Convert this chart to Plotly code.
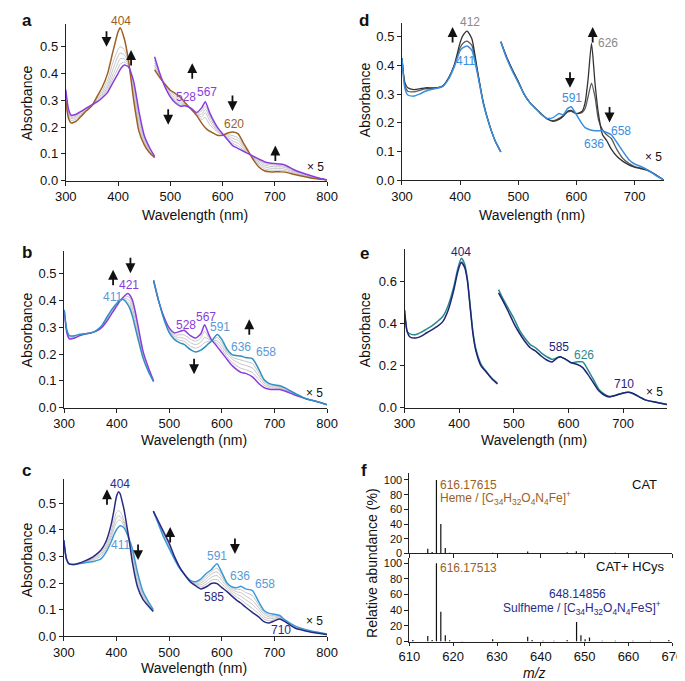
import plotly.graph_objects as go

W, H = 685, 681
FONT = "Liberation Sans, Arial, Helvetica, sans-serif"

# ---------------- DATA ----------------
# Panel a
a_sor_nm = [300, 305, 310, 320, 330, 340, 350, 360, 370, 380, 390, 400, 404, 412, 420, 430, 440, 450, 460, 470]
a_sor_brown = [0.30, 0.235, 0.216, 0.222, 0.242, 0.262, 0.28, 0.315, 0.35, 0.40, 0.48, 0.555, 0.571, 0.53, 0.45, 0.30, 0.185, 0.135, 0.105, 0.086]
a_sor_purple = [0.34, 0.27, 0.245, 0.248, 0.26, 0.272, 0.283, 0.294, 0.31, 0.33, 0.365, 0.40, 0.415, 0.432, 0.425, 0.37, 0.26, 0.17, 0.125, 0.091]
a_sor_g1 = [0.31, 0.245, 0.225, 0.23, 0.247, 0.265, 0.281, 0.308, 0.336, 0.375, 0.44, 0.49, 0.50, 0.49, 0.44, 0.32, 0.205, 0.145, 0.11, 0.087]
a_sor_g2 = [0.32, 0.252, 0.232, 0.236, 0.251, 0.268, 0.282, 0.303, 0.327, 0.36, 0.415, 0.465, 0.477, 0.47, 0.437, 0.335, 0.22, 0.152, 0.115, 0.088]
a_sor_g3 = [0.33, 0.258, 0.237, 0.241, 0.255, 0.27, 0.282, 0.30, 0.32, 0.35, 0.395, 0.44, 0.455, 0.455, 0.433, 0.348, 0.235, 0.16, 0.118, 0.089]
a_sor_g4 = [0.335, 0.264, 0.241, 0.245, 0.258, 0.271, 0.283, 0.297, 0.315, 0.34, 0.38, 0.42, 0.435, 0.443, 0.43, 0.36, 0.248, 0.165, 0.122, 0.09]

a_vis_nm = [470, 480, 490, 500, 510, 520, 528, 540, 550, 560, 567, 575, 580, 590, 600, 610, 620, 630, 640, 650, 660, 670, 680, 690, 700, 710, 720, 740, 760, 780, 800]
a_vis_brown = [0.414, 0.385, 0.36, 0.338, 0.325, 0.31, 0.292, 0.267, 0.245, 0.215, 0.198, 0.185, 0.18, 0.17, 0.17, 0.178, 0.182, 0.175, 0.14, 0.108, 0.075, 0.05, 0.037, 0.033, 0.033, 0.033, 0.032, 0.022, 0.014, 0.007, 0.002]
a_vis_purple = [0.463, 0.40, 0.35, 0.313, 0.29, 0.278, 0.28, 0.27, 0.255, 0.272, 0.295, 0.255, 0.235, 0.20, 0.175, 0.152, 0.13, 0.12, 0.11, 0.10, 0.09, 0.08, 0.071, 0.066, 0.064, 0.062, 0.058, 0.038, 0.024, 0.012, 0.003]
a_vis_g1 = [0.42, 0.388, 0.358, 0.333, 0.316, 0.30, 0.287, 0.267, 0.248, 0.228, 0.236, 0.21, 0.20, 0.182, 0.172, 0.172, 0.168, 0.16, 0.132, 0.106, 0.08, 0.058, 0.045, 0.04, 0.039, 0.039, 0.037, 0.026, 0.016, 0.008, 0.002]
a_vis_g2 = [0.43, 0.39, 0.355, 0.327, 0.308, 0.293, 0.285, 0.268, 0.25, 0.238, 0.254, 0.225, 0.21, 0.186, 0.172, 0.167, 0.158, 0.15, 0.126, 0.105, 0.083, 0.064, 0.052, 0.047, 0.046, 0.046, 0.043, 0.03, 0.018, 0.009, 0.002]
a_vis_g3 = [0.44, 0.393, 0.352, 0.322, 0.30, 0.287, 0.283, 0.269, 0.252, 0.248, 0.267, 0.238, 0.22, 0.19, 0.173, 0.162, 0.148, 0.139, 0.12, 0.103, 0.085, 0.07, 0.058, 0.054, 0.052, 0.052, 0.049, 0.033, 0.02, 0.01, 0.002]
a_vis_g4 = [0.45, 0.396, 0.35, 0.317, 0.295, 0.282, 0.281, 0.27, 0.254, 0.26, 0.279, 0.247, 0.228, 0.195, 0.174, 0.157, 0.139, 0.129, 0.115, 0.101, 0.087, 0.075, 0.064, 0.06, 0.058, 0.057, 0.053, 0.035, 0.022, 0.011, 0.003]

# Panel b
b_sor_nm = [300, 305, 310, 320, 330, 340, 350, 360, 370, 380, 390, 400, 405, 411, 415, 421, 425, 430, 435, 440, 450, 460, 470]
b_sor_purple = [0.365, 0.28, 0.257, 0.26, 0.269, 0.275, 0.279, 0.285, 0.297, 0.32, 0.35, 0.38, 0.395, 0.41, 0.418, 0.426, 0.42, 0.40, 0.36, 0.31, 0.21, 0.15, 0.10]
b_sor_blue = [0.365, 0.29, 0.269, 0.269, 0.274, 0.276, 0.279, 0.287, 0.303, 0.334, 0.365, 0.39, 0.40, 0.405, 0.40, 0.385, 0.37, 0.34, 0.30, 0.26, 0.185, 0.135, 0.097]
b_sor_g1 = [0.365, 0.283, 0.261, 0.263, 0.271, 0.275, 0.279, 0.286, 0.299, 0.325, 0.355, 0.384, 0.396, 0.408, 0.413, 0.415, 0.41, 0.385, 0.345, 0.295, 0.20, 0.145, 0.099]
b_sor_g2 = [0.365, 0.285, 0.264, 0.265, 0.272, 0.276, 0.279, 0.286, 0.30, 0.328, 0.359, 0.386, 0.397, 0.407, 0.408, 0.405, 0.398, 0.37, 0.33, 0.283, 0.195, 0.141, 0.098]
b_sor_g3 = [0.365, 0.287, 0.267, 0.267, 0.273, 0.276, 0.279, 0.287, 0.302, 0.331, 0.362, 0.388, 0.398, 0.406, 0.404, 0.395, 0.385, 0.355, 0.315, 0.272, 0.19, 0.138, 0.098]

b_vis_nm = [470, 480, 490, 500, 510, 520, 528, 540, 550, 560, 567, 575, 580, 591, 600, 610, 620, 636, 645, 658, 670, 680, 690, 700, 710, 720, 740, 760, 780, 800]
b_vis_blue = [0.475, 0.396, 0.328, 0.279, 0.254, 0.242, 0.236, 0.217, 0.208, 0.215, 0.225, 0.24, 0.248, 0.273, 0.254, 0.217, 0.197, 0.193, 0.187, 0.183, 0.144, 0.105, 0.09, 0.085, 0.082, 0.074, 0.052, 0.033, 0.023, 0.011]
b_vis_purple = [0.475, 0.396, 0.338, 0.297, 0.279, 0.285, 0.289, 0.269, 0.26, 0.276, 0.31, 0.273, 0.254, 0.228, 0.205, 0.18, 0.156, 0.132, 0.128, 0.115, 0.09, 0.075, 0.069, 0.068, 0.068, 0.062, 0.046, 0.033, 0.023, 0.011]
b_vis_g1 = [0.475, 0.396, 0.335, 0.292, 0.272, 0.272, 0.272, 0.256, 0.248, 0.26, 0.285, 0.262, 0.252, 0.24, 0.218, 0.19, 0.168, 0.147, 0.142, 0.131, 0.105, 0.084, 0.075, 0.073, 0.072, 0.066, 0.048, 0.033, 0.023, 0.011]
b_vis_g2 = [0.475, 0.396, 0.333, 0.288, 0.266, 0.262, 0.259, 0.243, 0.235, 0.245, 0.263, 0.255, 0.25, 0.25, 0.23, 0.20, 0.18, 0.163, 0.158, 0.148, 0.118, 0.092, 0.08, 0.077, 0.075, 0.069, 0.05, 0.033, 0.023, 0.011]
b_vis_g3 = [0.475, 0.396, 0.331, 0.284, 0.26, 0.252, 0.248, 0.23, 0.222, 0.23, 0.243, 0.248, 0.249, 0.262, 0.242, 0.208, 0.188, 0.178, 0.173, 0.165, 0.13, 0.098, 0.085, 0.081, 0.078, 0.071, 0.051, 0.033, 0.023, 0.011]

# Panel c
c_sor_nm = [300, 305, 310, 320, 330, 340, 350, 360, 370, 380, 390, 395, 400, 404, 407, 411, 415, 420, 425, 430, 440, 450, 460, 470]
c_sor_navy = [0.36, 0.29, 0.272, 0.27, 0.275, 0.283, 0.292, 0.305, 0.322, 0.355, 0.42, 0.47, 0.525, 0.543, 0.535, 0.505, 0.47, 0.41, 0.35, 0.28, 0.185, 0.14, 0.115, 0.093]
c_sor_lblue = [0.36, 0.29, 0.272, 0.27, 0.273, 0.276, 0.279, 0.283, 0.29, 0.315, 0.355, 0.38, 0.40, 0.41, 0.415, 0.413, 0.405, 0.385, 0.36, 0.33, 0.24, 0.17, 0.132, 0.10]
c_sor_g1 = [0.36, 0.29, 0.272, 0.27, 0.274, 0.281, 0.289, 0.299, 0.312, 0.34, 0.395, 0.435, 0.465, 0.472, 0.468, 0.452, 0.43, 0.39, 0.345, 0.295, 0.2, 0.15, 0.12, 0.095]
c_sor_g2 = [0.36, 0.29, 0.272, 0.27, 0.274, 0.279, 0.286, 0.295, 0.306, 0.332, 0.382, 0.418, 0.445, 0.452, 0.45, 0.438, 0.42, 0.388, 0.35, 0.31, 0.215, 0.155, 0.123, 0.097]
c_sor_g3 = [0.36, 0.29, 0.272, 0.27, 0.273, 0.278, 0.283, 0.29, 0.30, 0.325, 0.37, 0.402, 0.428, 0.436, 0.436, 0.428, 0.412, 0.386, 0.355, 0.318, 0.225, 0.162, 0.127, 0.098]

c_vis_nm = [470, 480, 490, 500, 510, 520, 530, 540, 550, 560, 570, 580, 585, 591, 600, 610, 620, 630, 636, 645, 658, 670, 680, 690, 700, 710, 720, 740, 760, 780, 800]
c_vis_lblue = [0.47, 0.42, 0.37, 0.33, 0.29, 0.255, 0.23, 0.21, 0.205, 0.215, 0.235, 0.25, 0.262, 0.272, 0.24, 0.20, 0.185, 0.183, 0.188, 0.178, 0.172, 0.13, 0.098, 0.086, 0.083, 0.078, 0.062, 0.038, 0.025, 0.016, 0.009]
c_vis_navy = [0.47, 0.43, 0.39, 0.35, 0.30, 0.26, 0.23, 0.205, 0.19, 0.178, 0.185, 0.198, 0.20, 0.198, 0.183, 0.168, 0.15, 0.133, 0.125, 0.11, 0.09, 0.073, 0.055, 0.05, 0.058, 0.065, 0.055, 0.03, 0.02, 0.012, 0.006]
c_vis_g1 = [0.47, 0.428, 0.385, 0.345, 0.298, 0.258, 0.23, 0.207, 0.194, 0.186, 0.195, 0.21, 0.213, 0.213, 0.197, 0.178, 0.16, 0.145, 0.138, 0.124, 0.105, 0.085, 0.065, 0.058, 0.063, 0.068, 0.057, 0.032, 0.021, 0.013, 0.007]
c_vis_g2 = [0.47, 0.426, 0.38, 0.34, 0.296, 0.257, 0.23, 0.208, 0.197, 0.193, 0.205, 0.222, 0.226, 0.228, 0.21, 0.186, 0.168, 0.156, 0.151, 0.138, 0.12, 0.097, 0.074, 0.066, 0.068, 0.071, 0.059, 0.034, 0.022, 0.014, 0.008]
c_vis_g3 = [0.47, 0.424, 0.377, 0.336, 0.294, 0.256, 0.23, 0.209, 0.20, 0.20, 0.215, 0.233, 0.239, 0.242, 0.222, 0.193, 0.175, 0.166, 0.164, 0.152, 0.135, 0.108, 0.083, 0.073, 0.073, 0.074, 0.06, 0.035, 0.023, 0.015, 0.008]
c_vis_g4 = [0.47, 0.422, 0.374, 0.333, 0.292, 0.256, 0.23, 0.21, 0.203, 0.207, 0.225, 0.242, 0.25, 0.256, 0.232, 0.198, 0.18, 0.175, 0.176, 0.165, 0.153, 0.118, 0.09, 0.079, 0.078, 0.076, 0.061, 0.036, 0.024, 0.015, 0.009]

# Panel d
d_sor_nm = [300, 305, 310, 320, 330, 340, 350, 360, 370, 380, 390, 400, 405, 412, 420, 430, 440, 450, 460, 470]
d_sor_dark = [0.425, 0.34, 0.322, 0.316, 0.318, 0.322, 0.322, 0.322, 0.328, 0.356, 0.402, 0.48, 0.505, 0.52, 0.494, 0.38, 0.27, 0.195, 0.138, 0.098]
d_sor_mid = [0.425, 0.33, 0.31, 0.308, 0.313, 0.318, 0.32, 0.322, 0.328, 0.355, 0.40, 0.462, 0.478, 0.485, 0.471, 0.375, 0.268, 0.195, 0.138, 0.098]
d_sor_blue = [0.425, 0.32, 0.297, 0.293, 0.30, 0.31, 0.316, 0.32, 0.327, 0.352, 0.396, 0.452, 0.462, 0.468, 0.454, 0.37, 0.266, 0.195, 0.138, 0.098]

d_vis_nm = [470, 480, 490, 500, 510, 520, 530, 540, 550, 560, 570, 577, 585, 591, 600, 610, 615, 620, 626, 632, 638, 645, 652, 660, 670, 680, 690, 700, 710, 720, 735, 750]
d_vis_blue = [0.483, 0.425, 0.38, 0.34, 0.30, 0.27, 0.25, 0.228, 0.215, 0.218, 0.232, 0.228, 0.25, 0.256, 0.228, 0.195, 0.183, 0.178, 0.174, 0.172, 0.172, 0.172, 0.166, 0.158, 0.13, 0.10, 0.072, 0.056, 0.048, 0.038, 0.018, 0.0]
d_vis_dark = [0.483, 0.43, 0.385, 0.345, 0.30, 0.27, 0.25, 0.23, 0.213, 0.205, 0.212, 0.222, 0.24, 0.243, 0.232, 0.24, 0.27, 0.35, 0.477, 0.338, 0.23, 0.158, 0.138, 0.108, 0.082, 0.065, 0.053, 0.045, 0.04, 0.035, 0.02, 0.0]
d_vis_mid = [0.483, 0.428, 0.383, 0.342, 0.30, 0.27, 0.25, 0.23, 0.213, 0.207, 0.215, 0.225, 0.238, 0.24, 0.232, 0.236, 0.25, 0.29, 0.338, 0.29, 0.21, 0.175, 0.158, 0.145, 0.105, 0.075, 0.058, 0.047, 0.042, 0.037, 0.02, 0.0]

# Panel e
e_sor_nm = [300, 305, 310, 320, 330, 340, 350, 360, 370, 380, 390, 398, 404, 410, 415, 420, 425, 430, 440, 450, 460, 470]
e_sor_navy = [0.463, 0.36, 0.335, 0.33, 0.338, 0.354, 0.369, 0.385, 0.408, 0.463, 0.556, 0.65, 0.689, 0.665, 0.603, 0.478, 0.354, 0.276, 0.198, 0.167, 0.136, 0.112]
e_sor_teal = [0.463, 0.36, 0.35, 0.346, 0.357, 0.372, 0.388, 0.408, 0.432, 0.486, 0.572, 0.665, 0.709, 0.681, 0.611, 0.486, 0.362, 0.284, 0.206, 0.17, 0.139, 0.117]

e_vis_nm = [472, 480, 490, 500, 510, 520, 530, 540, 550, 560, 570, 580, 585, 595, 605, 615, 626, 635, 645, 655, 665, 675, 685, 700, 710, 720, 730, 740, 760, 780]
e_vis_teal = [0.56, 0.517, 0.47, 0.424, 0.369, 0.33, 0.299, 0.284, 0.26, 0.242, 0.229, 0.237, 0.242, 0.229, 0.213, 0.217, 0.217, 0.182, 0.136, 0.089, 0.065, 0.053, 0.058, 0.07, 0.073, 0.065, 0.05, 0.037, 0.026, 0.015]
e_vis_navy = [0.544, 0.506, 0.455, 0.40, 0.354, 0.315, 0.284, 0.268, 0.245, 0.226, 0.217, 0.237, 0.242, 0.229, 0.213, 0.206, 0.19, 0.159, 0.12, 0.081, 0.06, 0.051, 0.057, 0.07, 0.073, 0.065, 0.05, 0.037, 0.026, 0.015]

# Panel f (mass spectra)
f_cat_mz = [614.2, 615.2, 616.18, 617.18, 618.2, 619.2, 629.0, 637.0, 646.0, 648.1, 649.1, 651.0, 657.0]
f_cat_ab = [6.5, 2, 100, 40, 7.5, 1, 0.8, 2.5, 1.5, 3, 1, 1, 0.8]
f_hcys_mz = [610.8, 614.2, 615.2, 616.18, 617.18, 618.2, 619.2, 622.0, 629.0, 637.0, 638.0, 640.5, 643.0, 646.0, 648.15, 649.15, 650.1, 651.1, 654.0, 657.0, 661.0, 665.0, 669.2]
f_hcys_ab = [2, 7, 2, 100, 38, 8, 1.5, 0.8, 3, 6, 2, 1, 1, 2, 25, 8, 3, 5, 1, 1, 1, 1, 2]

wl_ticks = [300, 400, 500, 600, 700, 800]
mz_ticks = [610, 620, 630, 640, 650, 660, 670]
ab_ticks = [0, 20, 40, 60, 80, 100]

# ---------------- COLORS ----------------
BROWN = "#9c5f26"
PURPLE = "#8a3ce0"
TEAL_B = "#2f8fc0"
NAVY = "#2a2a85"
LBLUE = "#3a9ad8"
DARK = "#333333"
MID = "#5a5a5a"
DBLUE = "#3a8ee0"
E_NAVY = "#1f2478"
E_TEAL = "#2a8a8a"
GRAY = "#c4c4c4"
LBL_BLUE = "#5a9ad6"

fig = go.Figure()


def dom_x(p0, p1):
    return [p0 / W, p1 / W]


def dom_y(top, bottom):
    return [1 - bottom / H, 1 - top / H]


def add_line(x, y, color, k, width=1.5):
    fig.add_trace(go.Scatter(x=x, y=y, mode="lines", line=dict(color=color, width=width, shape="spline", smoothing=0.6),
                             xaxis="x" + ("" if k == 1 else str(k)), yaxis="y" + ("" if k == 1 else str(k)),
                             showlegend=False, hoverinfo="skip"))


# Panel a (axis 1)
for g in (a_sor_g1, a_sor_g2, a_sor_g3, a_sor_g4):
    add_line(a_sor_nm, g, GRAY, 1, 1)
for g in (a_vis_g1, a_vis_g2, a_vis_g3, a_vis_g4):
    add_line(a_vis_nm, g, GRAY, 1, 1)
add_line(a_sor_nm, a_sor_brown, BROWN, 1)
add_line(a_sor_nm, a_sor_purple, PURPLE, 1)
add_line(a_vis_nm, a_vis_brown, BROWN, 1)
add_line(a_vis_nm, a_vis_purple, PURPLE, 1)

# Panel b (axis 2)
for g in (b_sor_g1, b_sor_g2, b_sor_g3):
    add_line(b_sor_nm, g, GRAY, 2, 1)
for g in (b_vis_g1, b_vis_g2, b_vis_g3):
    add_line(b_vis_nm, g, GRAY, 2, 1)
add_line(b_sor_nm, b_sor_purple, PURPLE, 2)
add_line(b_sor_nm, b_sor_blue, TEAL_B, 2)
add_line(b_vis_nm, b_vis_purple, PURPLE, 2)
add_line(b_vis_nm, b_vis_blue, TEAL_B, 2)

# Panel c (axis 3)
for g in (c_sor_g1, c_sor_g2, c_sor_g3):
    add_line(c_sor_nm, g, GRAY, 3, 1)
for g in (c_vis_g1, c_vis_g2, c_vis_g3, c_vis_g4):
    add_line(c_vis_nm, g, GRAY, 3, 1)
add_line(c_sor_nm, c_sor_lblue, LBLUE, 3)
add_line(c_sor_nm, c_sor_navy, NAVY, 3)
add_line(c_vis_nm, c_vis_lblue, LBLUE, 3)
add_line(c_vis_nm, c_vis_navy, NAVY, 3)

# Panel d (axis 4)
add_line(d_sor_nm, d_sor_mid, MID, 4, 1.3)
add_line(d_sor_nm, d_sor_dark, DARK, 4, 1.3)
add_line(d_sor_nm, d_sor_blue, DBLUE, 4)
add_line(d_vis_nm, d_vis_mid, MID, 4, 1.3)
add_line(d_vis_nm, d_vis_dark, DARK, 4, 1.3)
add_line(d_vis_nm, d_vis_blue, DBLUE, 4)

# Panel e (axis 5)
add_line(e_sor_nm, e_sor_teal, E_TEAL, 5)
add_line(e_sor_nm, e_sor_navy, E_NAVY, 5)
add_line(e_vis_nm, e_vis_teal, E_TEAL, 5)
add_line(e_vis_nm, e_vis_navy, E_NAVY, 5)


# Panel f (axes 6, 7) sticks
def sticks(mz, ab, k):
    xs, ys = [], []
    for m, a in zip(mz, ab):
        xs += [m, m, None]
        ys += [0, a, None]
    fig.add_trace(go.Scatter(x=xs, y=ys, mode="lines", line=dict(color="#111111", width=1.2),
                             xaxis="x" + str(k), yaxis="y" + str(k), showlegend=False, hoverinfo="skip"))


sticks(f_cat_mz, f_cat_ab, 6)
sticks(f_hcys_mz, f_hcys_ab, 7)

# ---------------- AXES ----------------
AX = dict(showline=True, linecolor="#222222", linewidth=1, ticks="outside", ticklen=4, tickwidth=1,
          tickcolor="#222222", showgrid=False, zeroline=False, tickfont=dict(family=FONT, size=13, color="#111111"))

# panel boxes: (x0px, x1px, xrange, ytop_px, ybottom_px, yrange)
panels = {
    1: (48.3, 318.3, [300, 800], 15, 174, [0, 0.586], wl_ticks, 0.1),
    2: (46.7, 318.3, [300, 800], 245, 404, [0, 0.586], wl_ticks, 0.1),
    3: (46.3, 318.3, [300, 800], 476.7, 635.7, [0, 0.589], wl_ticks, 0.1),
    4: (395.7, 666.0, [300, 750], 14, 173.3, [0, 0.549], wl_ticks[:5], 0.1),
    5: (398.3, 670.0, [300, 781], 243.3, 404, [0, 0.752], wl_ticks[:5], 0.2),
}
layout = dict(width=W, height=H, margin=dict(l=0, r=0, t=0, b=0), paper_bgcolor="white", plot_bgcolor="white",
              showlegend=False, font=dict(family=FONT, color="#111111"))
for k, (x0, x1, xr, yt, yb, yr, xt, dy) in panels.items():
    xs = "xaxis" if k == 1 else "xaxis" + str(k)
    ys = "yaxis" if k == 1 else "yaxis" + str(k)
    anchor_y = "y" if k == 1 else "y" + str(k)
    anchor_x = "x" if k == 1 else "x" + str(k)
    layout[xs] = dict(AX, domain=dom_x(x0, x1), range=xr, tickvals=xt, anchor=anchor_y)
    layout[ys] = dict(AX, domain=dom_y(yt, yb), range=yr, dtick=dy, tick0=0, tickformat=".1f", anchor=anchor_x)

layout["xaxis6"] = dict(AX, domain=dom_x(403.3, 675), range=[610, 670], tickvals=mz_ticks, showticklabels=False, anchor="y6")
layout["yaxis6"] = dict(AX, domain=dom_y(470, 551.7), range=[0, 109.8], tickvals=ab_ticks, anchor="x6",
                        tickfont=dict(family=FONT, size=11, color="#111111"))
layout["xaxis7"] = dict(AX, domain=dom_x(403.3, 675), range=[610, 670], tickvals=mz_ticks, anchor="y7", ticklen=3)
layout["yaxis7"] = dict(AX, domain=dom_y(556.7, 641), range=[0, 106.3], tickvals=ab_ticks, anchor="x7",
                        tickfont=dict(family=FONT, size=11, color="#111111"))

fig.update_layout(**layout)

ann = []


def paper_text(text, px, py, size=13, bold=False, angle=0, color="#111111", italic=False):
    t = "<b>" + text + "</b>" if bold else text
    if italic:
        t = "<i>" + t + "</i>"
    ann.append(dict(text=t, x=px / W, y=1 - py / H, xref="paper", yref="paper", showarrow=False,
                    textangle=angle, font=dict(family=FONT, size=size, color=color), xanchor="center", yanchor="middle"))


# panel letters
paper_text("a", 8, 12, 17, True)
paper_text("d", 356, 12, 17, True)
paper_text("b", 8, 247, 17, True)
paper_text("e", 357, 248, 17, True)
paper_text("c", 8, 468, 17, True)
paper_text("f", 356, 468, 17, True)

# axis titles
for (px, py) in [(8, 95), (8, 325), (8, 558)]:
    paper_text("Absorbance", px, py, 14, angle=-90)
paper_text("Absorbance", 357, 92, 14, angle=-90)
paper_text("Absorbance", 357, 325, 14, angle=-90)
paper_text("Relative abundance (%)", 364, 562, 14, angle=-90)
paper_text("Wavelength (nm)", 182, 209, 14)
paper_text("Wavelength (nm)", 181, 437, 14)
paper_text("Wavelength (nm)", 181, 668, 14)
paper_text("Wavelength (nm)", 530, 209, 14)
paper_text("Wavelength (nm)", 532, 437, 14)
paper_text("m/z", 533, 673, 14, italic=True)


def ax_ref(k):
    return ("x" if k == 1 else "x" + str(k)), ("y" if k == 1 else "y" + str(k))


def label(k, text, x, y, color, size=12, xanchor="center", yshift=0):
    xr, yr = ax_ref(k)
    ann.append(dict(text=text, x=x, y=y, xref=xr, yref=yr, showarrow=False, xanchor=xanchor, yanchor="middle",
                    yshift=yshift, font=dict(family=FONT, size=size, color=color)))


def arrow(k, x, y, up):
    xr, yr = ax_ref(k)
    ann.append(dict(text="", x=x, y=y, xref=xr, yref=yr, showarrow=True, ax=0, ay=(17 if up else -17),
                    arrowhead=2, arrowsize=1.1, arrowwidth=1.8, arrowcolor="#111111", standoff=0))


# panel a annotations
label(1, "404", 405, 0.585, BROWN, yshift=3)
label(1, "528", 531, 0.312, PURPLE)
label(1, "567", 571, 0.33, PURPLE)
label(1, "620", 621, 0.213, BROWN)
label(1, "× 5", 777, 0.052, "#111111")
arrow(1, 378, 0.50, False)
arrow(1, 425, 0.488, True)
arrow(1, 542, 0.439, True)
arrow(1, 496, 0.209, False)
arrow(1, 619, 0.26, False)
arrow(1, 701, 0.131, True)

# panel b
label(2, "421", 423, 0.457, PURPLE)
label(2, "411", 391, 0.414, LBL_BLUE)
label(2, "528", 532, 0.31, PURPLE)
label(2, "567", 569, 0.338, PURPLE)
label(2, "591", 596, 0.30, LBL_BLUE)
label(2, "636", 637, 0.227, LBL_BLUE)
label(2, "658", 683, 0.208, LBL_BLUE)
label(2, "× 5", 777, 0.055, "#111111")
arrow(2, 393, 0.515, True)
arrow(2, 426, 0.502, False)
arrow(2, 652, 0.33, True)
arrow(2, 547, 0.125, False)

# panel c
label(3, "404", 407, 0.573, NAVY)
label(3, "411", 407, 0.342, LBL_BLUE)
label(3, "591", 590, 0.301, LBL_BLUE)
label(3, "636", 635, 0.228, LBL_BLUE)
label(3, "658", 682, 0.196, LBL_BLUE)
label(3, "585", 586, 0.147, NAVY)
label(3, "710", 712, 0.025, NAVY)
label(3, "× 5", 776, 0.056, "#111111")
arrow(3, 382, 0.552, True)
arrow(3, 441, 0.286, False)
arrow(3, 502, 0.41, True)
arrow(3, 625, 0.309, False)

# panel d
label(4, "412", 417, 0.548, "#8a8a8a", yshift=1)
label(4, "411", 410, 0.414, DBLUE)
label(4, "626", 654, 0.477, "#8a8a8a")
label(4, "591", 593, 0.285, DBLUE)
label(4, "658", 676, 0.172, DBLUE)
label(4, "636", 631, 0.126, DBLUE)
label(4, "× 5", 732, 0.08, "#111111")
arrow(4, 387, 0.534, True)
arrow(4, 628, 0.534, True)
arrow(4, 589, 0.322, False)
arrow(4, 657, 0.201, False)

# panel e
label(5, "404", 403, 0.74, E_NAVY)
label(5, "585", 582, 0.288, E_NAVY)
label(5, "626", 629, 0.252, E_TEAL)
label(5, "710", 701, 0.112, E_NAVY)
label(5, "× 5", 757, 0.076, "#111111")

# panel f
label(6, "616.17615", 616.6, 93.3, BROWN, 12, "left")
label(6, "Heme / [C<sub>34</sub>H<sub>32</sub>O<sub>4</sub>N<sub>4</sub>Fe]<sup>+</sup>", 616.6, 75, BROWN, 12, "left")
label(6, "CAT", 663.7, 94, "#111111", 13)
label(7, "616.17513", 616.6, 94.6, BROWN, 12, "left")
label(7, "CAT+ HCys", 660.5, 95.8, "#111111", 13)
label(7, "648.14856", 648.3, 61, "#2a2a8a", 12)
label(7, "Sulfheme / [C<sub>34</sub>H<sub>32</sub>O<sub>4</sub>N<sub>4</sub>FeS]<sup>+</sup>", 649.4, 43, "#2a2a8a", 12)

fig.update_layout(annotations=ann)
fig.write_html("out.html")
